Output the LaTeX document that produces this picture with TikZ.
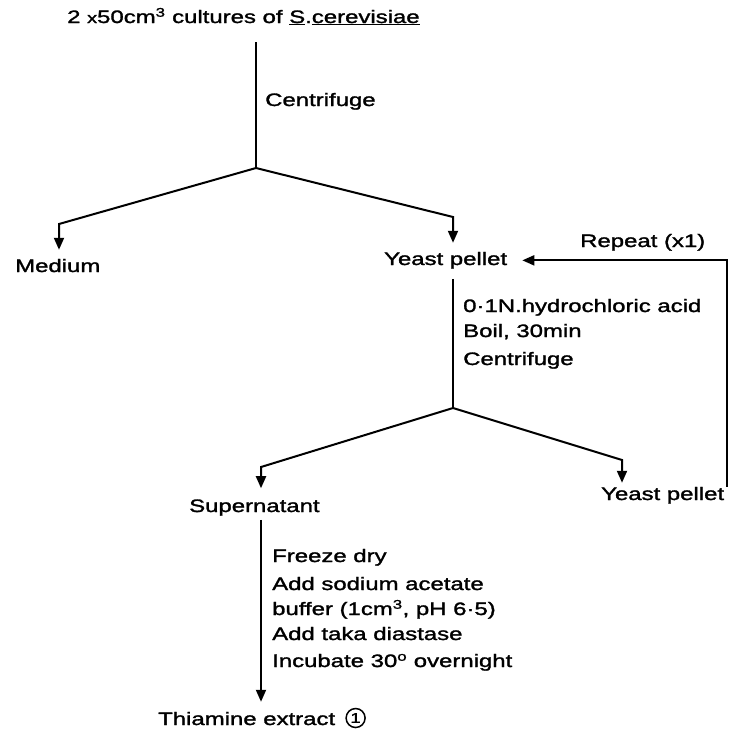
\documentclass[tikz,border=0pt]{standalone}
\usepackage{fontspec}
\setmainfont{Liberation Sans}[FakeStretch=1.33,FakeBold=1.6]
\usetikzlibrary{arrows.meta,calc}
\begin{document}
\begin{tikzpicture}[x=1pt,y=-1pt,
  every node/.style={inner sep=0pt, font=\fontsize{18}{22}\selectfont},
  lbl/.style={anchor=base west},
  ln/.style={line width=2pt},
  arr/.style={ln, -{Triangle[length=12pt,width=10pt]}}]
\useasboundingbox (0,0) rectangle (738,737);
% texts
\node[lbl] (title) at (67,23) {2 {\fontsize{15}{16}\selectfont x}50cm\textsuperscript{3} cultures of \underline{S}.\underline{cerevisiae}};
\node[lbl] (cf1) at (265,106) {Centrifuge};
\node[lbl] (med) at (15,272) {Medium};
\node[lbl] (yp1) at (384,265) {Yeast pellet};
\node[lbl] (rep) at (580,247) {Repeat (x1)};
\node[lbl] (t1) at (463,312) {0·1N.hydrochloric acid};
\node[lbl] (t2) at (463,337) {Boil, 30min};
\node[lbl] (t3) at (463,365) {Centrifuge};
\node[lbl] (sup) at (189,512) {Supernatant};
\node[lbl] (yp2) at (601,500) {Yeast pellet};
\node[lbl] (f1) at (272,562) {Freeze dry};
\node[lbl] (f2) at (272,590) {Add sodium acetate};
\node[lbl] (f3) at (272,615) {buffer (1cm\textsuperscript{3}, pH 6·5)};
\node[lbl] (f4) at (272,640) {Add taka diastase};
\node[lbl] (f5) at (272,667) {Incubate 30\textsuperscript{o} overnight};
\node[lbl] (th) at (158,725) {Thiamine extract};
\node[circle, draw, line width=1.5pt, minimum size=19pt, anchor=west,
      font=\fontsize{14}{16}\selectfont] (c1) at ($(th.base east)+(10,-7)$) {1};
% coordinates
\coordinate (s1) at (256,42);
\coordinate (j1) at (256,168);
\coordinate (b1) at (59,224);
\coordinate (b2) at (453,217);
\coordinate (j2) at (453,408);
\coordinate (b3) at (261,467);
\coordinate (b4) at (622,460);
\path (yp1.east) -- ++(220,0) coordinate (fb);
% connectors
\draw[ln] (s1) -- (j1);
\draw[arr, shorten >=9pt] (j1) -- (b1) -- (b1 |- med.north);
\draw[arr, shorten >=9pt] (j1) -- (b2) -- (b2 |- yp1.north);
\draw[ln, shorten <=10pt] (yp1.south -| j2) -- (j2);
\draw[arr, shorten >=11pt] (j2) -- (b3) -- (b3 |- sup.north);
\draw[arr, shorten >=4pt] (j2) -- (b4) -- (b4 |- yp2.north);
\draw[arr, shorten >=15pt] (yp2.north -| fb) -- (fb) -- (yp1.east);
\draw[arr, shorten <=4pt, shorten >=10pt] (sup.south -| b3) -- (th.north -| b3);
\end{tikzpicture}
\end{document}
